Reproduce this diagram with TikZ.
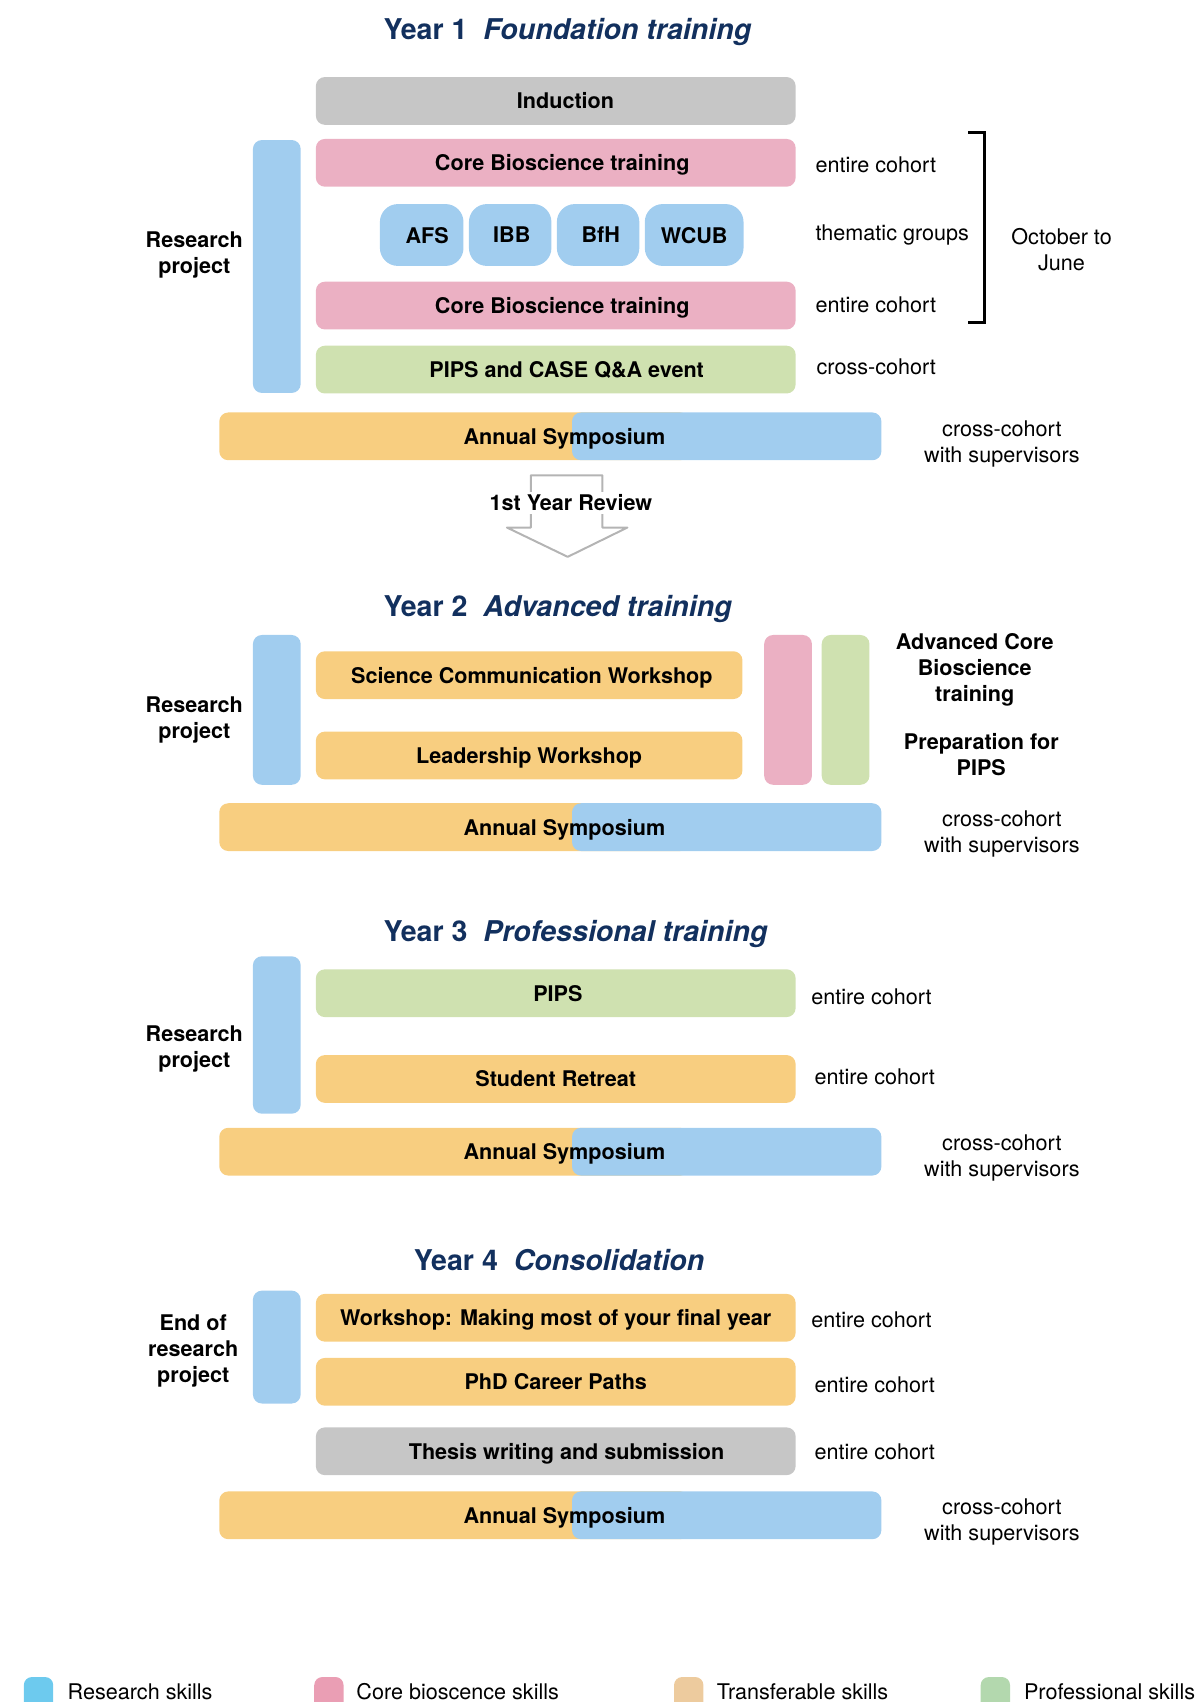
\documentclass[tikz,border=0pt]{standalone}
\usepackage{fontspec}
\setmainfont{TeX Gyre Heros}
\newdimen\uu \uu=0.543pt
\newcommand\fs{\fontsize{10.8}{13}\selectfont}
\newcommand\tfs{\fontsize{14.3}{17}\selectfont}
\definecolor{cgrey}{HTML}{C6C6C6}
\definecolor{cpink}{HTML}{EBB0C3}
\definecolor{cblue}{HTML}{A1CDEF}
\definecolor{cgreen}{HTML}{CFE1B0}
\definecolor{corange}{HTML}{F8CE80}
\definecolor{navy}{HTML}{12305E}
\definecolor{lblue}{HTML}{6DCAEE}
\definecolor{lpink}{HTML}{EA9EB4}
\definecolor{lorange}{HTML}{EDCB9E}
\definecolor{lgreen}{HTML}{B3D8AE}
\definecolor{arrgrey}{HTML}{B4B4B4}
\begin{document}
\begin{tikzpicture}[x=0.543pt,y=-0.543pt,
  box/.style={rounded corners=4.5pt, inner sep=0pt, font=\bfseries\fs, text=black, text depth=0pt},
  bw/.style={minimum width=#1\uu},
  bh/.style={minimum height=#1\uu},
  lab/.style={font=\fs, align=center, inner sep=0pt, text depth=0pt},
  blab/.style={font=\bfseries\fs, align=center, inner sep=0pt, text depth=0pt},
  ttl/.style={font=\bfseries\tfs, text=navy, anchor=west, inner sep=0pt, text depth=0pt},
  sw/.style={rounded corners=4pt, inner sep=0pt, minimum width=27\uu, minimum height=40\uu}]
\clip (0,0) rectangle (1106,1568);
\useasboundingbox (0,0) rectangle (1106,1568);

% ================= Year 1
\node[ttl] (t1) at (353,27) {Year 1\ \ \textit{Foundation training}};
\node[box, fill=cgrey, bw=442, bh=44] (ind) at (512,93) {\hspace{18\uu}Induction};
\node[box, fill=cblue, bw=44, bh=233] (rb1) at (255,245.5) {};
\node[box, fill=cpink, bw=442, bh=44] (core1) at (512,150) {\hspace{12\uu}Core Bioscience training};
\node[box, fill=cblue, bw=77, bh=57, rounded corners=9pt] (afs) at (388.5,216.5) {\hspace{10\uu}AFS};
\node[box, fill=cblue, bw=76, bh=57, rounded corners=9pt] (ibb) at (470,216.5) {\hspace{3\uu}IBB};
\node[box, fill=cblue, bw=76, bh=57, rounded corners=9pt] (bfh) at (551,216.5) {\hspace{5\uu}BfH};
\node[box, fill=cblue, bw=91, bh=57, rounded corners=9pt] (wcub) at (639.5,216.5) {WCUB};
\node[box, fill=cpink, bw=442, bh=44] (core2) at (512,281.5) {\hspace{12\uu}Core Bioscience training};
\node[box, fill=cgreen, bw=442, bh=44] (pc) at (512,340.5) {\hspace{20\uu}PIPS and CASE Q\&A event};
\node[box, fill=corange, bw=433, bh=44] (sa1) at (418.5,402) {};
\node[box, fill=cblue, bw=285, bh=44] (sb1) at (669.5,402) {};
\node[blab] (s1) at (520,402) {Annual Symposium};

\node[blab] (rp1) at (179,233) {Research\\project};
\node[lab, anchor=west] (l1a) at (751,152) {entire cohort};
\node[lab, anchor=west] (l1b) at (751,214) {thematic groups};
\node[lab, anchor=west] (l1c) at (751,281) {entire cohort};
\node[lab, anchor=west] (l1d) at (752,338) {cross-cohort};
\node[lab] (l1e) at (923,407) {cross-cohort\\with supervisors};
\node[lab] (oct) at (978,230) {October to\\June};
\coordinate (brA) at (892,122);
\coordinate (brB) at (907,122);
\coordinate (brC) at (907,297);
\coordinate (brD) at (892,297);
\draw[line width=1.2pt] (brA) -- (brB) -- (brC) -- (brD);

% review arrow
\draw[arrgrey, line width=1pt, line join=round] (489,438) -- (555,438) -- (555,486) -- (578,486) -- (523,513) -- (467,486) -- (489,486) -- cycle;
\node[blab, fill=white, inner xsep=1pt, inner ysep=1.5pt] (rev) at (526,463) {1st Year Review};

% ================= Year 2
\node[ttl] (t2) at (353,558) {Year 2\ \ \textit{Advanced training}};
\node[box, fill=cblue, bw=44, bh=138] (rb2) at (255,654) {};
\node[box, fill=corange, bw=393, bh=44] (scw) at (487.5,622) {\hspace{5\uu}Science Communication Workshop};
\node[box, fill=corange, bw=393, bh=44] (lw) at (487.5,696) {Leadership Workshop\hspace{8\uu}};
\node[box, fill=cpink, bw=44, bh=138] (pk2) at (726,654) {};
\node[box, fill=cgreen, bw=44, bh=138] (gr2) at (779,654) {};
\node[blab] (acb) at (898,615) {Advanced Core\\Bioscience\\training};
\node[blab] (prep) at (904,695) {Preparation for\\PIPS};
\node[blab] (rp2) at (179,661.5) {Research\\project};
\node[box, fill=corange, bw=433, bh=44] (sa2) at (418.5,762) {};
\node[box, fill=cblue, bw=285, bh=44] (sb2) at (669.5,762) {};
\node[blab] (s2) at (520,762) {Annual Symposium};
\node[lab] (l2e) at (923,766) {cross-cohort\\with supervisors};

% ================= Year 3
\node[ttl] (t3) at (353,858) {Year 3\ \ \textit{Professional training}};
\node[box, fill=cblue, bw=44, bh=145] (rb3) at (255,953.5) {};
\node[box, fill=cgreen, bw=442, bh=44] (pips) at (512,915) {\hspace{4\uu}PIPS};
\node[box, fill=corange, bw=442, bh=44] (sr) at (512,994) {Student Retreat};
\node[lab, anchor=west] (l3a) at (747,918) {entire cohort};
\node[lab, anchor=west] (l3b) at (750,992) {entire cohort};
\node[blab] (rp3) at (179,964.5) {Research\\project};
\node[box, fill=corange, bw=433, bh=44] (sa3) at (418.5,1061) {};
\node[box, fill=cblue, bw=285, bh=44] (sb3) at (669.5,1061) {};
\node[blab] (s3) at (520,1061) {Annual Symposium};
\node[lab] (l3e) at (923,1065) {cross-cohort\\with supervisors};

% ================= Year 4
\node[ttl] (t4) at (381,1161) {Year 4\ \ \textit{Consolidation}};
\node[box, fill=cblue, bw=44, bh=104] (rb4) at (255,1241) {};
\node[box, fill=corange, bw=442, bh=44] (wk) at (512,1214) {Workshop: Making most of your final year\hspace{4\uu}};
\node[box, fill=corange, bw=442, bh=44] (phd) at (512,1273) {PhD Career Paths\hspace{8\uu}};
\node[box, fill=cgrey, bw=442, bh=44] (th) at (512,1337) {\hspace{20\uu}Thesis writing and submission};
\node[lab, anchor=west] (l4a) at (747,1216) {entire cohort};
\node[lab, anchor=west] (l4b) at (750,1276) {entire cohort};
\node[lab, anchor=west] (l4c) at (750,1337) {entire cohort};
\node[blab] (rp4) at (178,1242) {End of\\research\\project};
\node[box, fill=corange, bw=433, bh=44] (sa4) at (418.5,1396) {};
\node[box, fill=cblue, bw=285, bh=44] (sb4) at (669.5,1396) {};
\node[blab] (s4) at (520,1396) {Annual Symposium};
\node[lab] (l4e) at (923,1400) {cross-cohort\\with supervisors};

% ================= Legend
\node[sw, fill=lblue] (sw1) at (35.5,1565) {};
\node[sw, fill=lpink] (sw2) at (303,1565) {};
\node[sw, fill=lorange] (sw3) at (634.5,1565) {};
\node[sw, fill=lgreen] (sw4) at (917,1565) {};
\node[font=\fs, anchor=base west, inner sep=0pt] (lg1) at (62,1566) {Research skills};
\node[font=\fs, anchor=base west, inner sep=0pt] (lg2) at (328,1566) {Core bioscence skills};
\node[font=\fs, anchor=base west, inner sep=0pt] (lg3) at (660,1566) {Transferable skills};
\node[font=\fs, anchor=base west, inner sep=0pt] (lg4) at (943,1566) {Professional skills};
\end{tikzpicture}
\end{document}
